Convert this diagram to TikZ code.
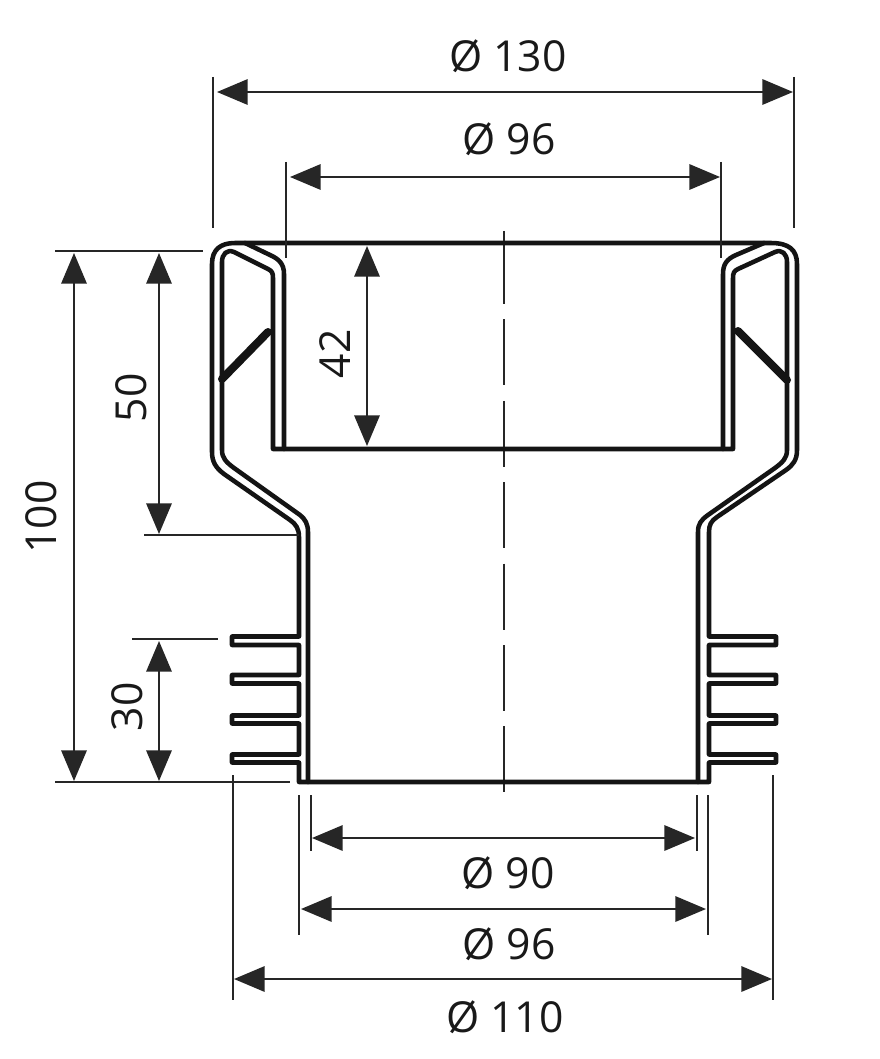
\documentclass[tikz,border=0pt]{standalone}
\usepackage{fontspec}
\setmainfont{Open Sans}
\usetikzlibrary{arrows.meta}
\tikzset{
  x=0.75pt,y=-0.75pt,
  wall/.style={line width=3.4pt,line join=round,line cap=round,black!92},
  gusset/.style={line width=6pt,line cap=round,black!92},
  ext/.style={line width=1.6pt,black!85},
  dim/.style={line width=1.6pt,black!85,{Triangle[length=23pt,width=19pt,inset=0pt]}-{Triangle[length=23pt,width=19pt,inset=0pt]}},
  axis/.style={line width=1.5pt,black!85},
  lab/.style={font=\fontsize{32}{32}\selectfont,text=black!90,inner sep=0pt}
}
\newcommand{\dimx}[4]{% y, x1, x2, name
  \coordinate (#4a) at (#2,#1); \coordinate (#4b) at (#3,#1);
  \draw[dim] (#4a) -- (#4b);}
\newcommand{\dimy}[4]{% x, y1, y2, name
  \coordinate (#4a) at (#1,#2); \coordinate (#4b) at (#1,#3);
  \draw[dim] (#4a) -- (#4b);}
\newcommand{\extl}[5]{% name x1 y1 x2 y2
  \coordinate (#1a) at (#2,#3); \coordinate (#1b) at (#4,#5);
  \draw[ext] (#1a) -- (#1b);}
\begin{document}
\begin{tikzpicture}
\useasboundingbox (0,0) rectangle (879,1059);
\fill[white] (0,0) rectangle (879,1059);
% axis
\coordinate (axt) at (504,231); \coordinate (axm) at (504,238); \coordinate (axb) at (504,798);
\draw[axis] (axt) -- (axm);
\draw[axis,dash pattern=on 49.5pt off 11.55pt] (axm) -- (axb);
% outer contour
\draw[wall] (771,243) -- (235,243)
  .. controls (220,243) and (212,250) .. (212,264)
  -- (212,452) .. controls (212,462) and (216,468) .. (224,474)
  -- (290,520) .. controls (296,524) and (299,529) .. (299,537)
  -- (299,636.5) -- (232,636.5) -- (232,645) -- (299,645)
  -- (299,675) -- (232,675) -- (232,683.5) -- (299,683.5)
  -- (299,715.5) -- (232,715.5) -- (232,723.5) -- (299,723.5)
  -- (299,754.5) -- (232,754.5) -- (232,762.5) -- (299,762.5)
  -- (299,782) -- (698,782)
  -- (709,782) -- (709,762.5) -- (776,762.5) -- (776,754.5) -- (709,754.5)
  -- (709,723.5) -- (776,723.5) -- (776,715.5) -- (709,715.5)
  -- (709,683.5) -- (776,683.5) -- (776,675) -- (709,675)
  -- (709,645) -- (776,645) -- (776,636.5) -- (709,636.5)
  -- (709,532) .. controls (709,525) and (711,521) .. (717,517)
  -- (786,470) .. controls (793,465) and (797,460) .. (797,450)
  -- (797,264) .. controls (797,250) and (789,243) .. (771,243);
% sleeve and inner wall
\draw[wall] (308,782) -- (308,532) .. controls (308,524) and (305,519) .. (300,515)
  -- (234,468) .. controls (226,462) and (222,458) .. (222,450)
  -- (222,262) .. controls (222,254) and (227,249) .. (234,252)
  -- (268,269) .. controls (272,271) and (273,273) .. (273,278)
  -- (273,449) -- (733,449)
  -- (733,278) .. controls (733,273) and (734,271) .. (738,269)
  -- (775,252) .. controls (782,249) and (787,254) .. (787,262)
  -- (787,450) .. controls (787,458) and (783,462) .. (775,468)
  -- (708,515) .. controls (701,520) and (698,524) .. (698,532)
  -- (698,782);
% inner pipe outer lines
\draw[wall] (284,449) -- (284,274) .. controls (284,264) and (279,259) .. (270,255) -- (245,243);
\draw[wall] (723,449) -- (723,274) .. controls (723,264) and (727,259) .. (736,255) -- (764,243);
% gussets
\draw[gusset] (222,379) -- (268,332);
\draw[gusset] (738,331) -- (787,380);
% extension lines
\extl{ea}{213}{77}{213}{228}
\extl{eb}{794}{77}{794}{228}
\extl{ec}{286}{162}{286}{258}
\extl{ed}{721}{162}{721}{258}
\extl{ee}{55}{251}{203}{251}
\extl{ef}{144}{535}{299}{535}
\extl{eg}{132}{639}{218}{639}
\extl{eh}{55}{782}{290}{782}
\extl{ei}{311}{795}{311}{851}
\extl{ej}{697}{795}{697}{851}
\extl{ek}{299}{795}{299}{935}
\extl{el}{708}{795}{708}{935}
\extl{em}{233}{775}{233}{1000}
\extl{en}{773}{775}{773}{1000}
% dimensions
\dimx{92}{217}{793}{da}
\dimx{177}{290}{720}{db}
\dimy{367}{246}{446}{dc}
\dimy{159}{253}{534}{dd}
\dimy{74}{253}{781}{de}
\dimy{159}{641}{781}{df}
\dimx{838}{312}{695}{dg}
\dimx{909}{301}{706}{dh}
\dimx{979}{234}{772}{di}
% labels
\node[lab] (t1) at (508,56) {Ø 130};
\node[lab] (t2) at (509,139) {Ø 96};
\node[lab,rotate=90] (t3) at (335,354) {42};
\node[lab,rotate=90] (t4) at (131,398) {50};
\node[lab,rotate=90] (t5) at (41,517) {100};
\node[lab,rotate=90] (t6) at (127,707) {30};
\node[lab] (t7) at (508,873) {Ø 90};
\node[lab] (t8) at (509,944) {Ø 96};
\node[lab] (t9) at (505,1017) {Ø 110};
\end{tikzpicture}
\end{document}
